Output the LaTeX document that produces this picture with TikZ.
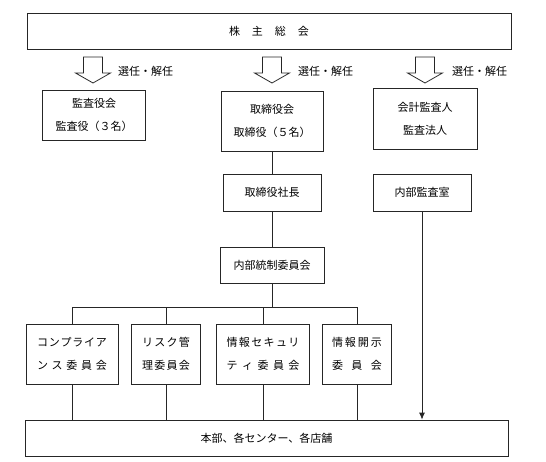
\documentclass[tikz,border=0pt]{standalone}
\usepackage{fontspec}
\setmainfont{Noto Sans CJK JP}
\usetikzlibrary{arrows.meta}

\tikzset{
  box/.style={draw=black!85, line width=0.8pt, inner sep=0pt, align=center,
    font=\fontsize{11pt}{23pt}\selectfont},
  link/.style={draw=black!85, line width=0.8pt},
}
% spread the characters of one line over a fixed width
\newcommand{\sline}[2]{\makebox[#1][s]{#2}}

\begin{document}
\begin{tikzpicture}[x=1pt,y=-1pt]
  \useasboundingbox (0,0) rectangle (546,462);

  % General meeting of shareholders
  \node[box, minimum width=484pt, minimum height=36pt] (gms) at (269,31)
    {\sline{80pt}{株\hfil 主\hfil 総\hfil 会}};

  % Hollow arrows with their labels
  \foreach \cx/\lx [count=\i] in {93/118, 272/298, 425/452} {
    \draw[black!85, line width=0.8pt] (\cx-9.5,57) -- (\cx+9.5,57) -- (\cx+9.5,73)
      -- (\cx+17.5,73) -- (\cx,83) -- (\cx-17.5,73) -- (\cx-9.5,73) -- cycle;
    \node[font=\fontsize{11pt}{13pt}\selectfont, anchor=west, inner sep=0pt] (sel\i)
      at (\lx,71) {選任・解任};
  }

  % Boards
  \node[box, minimum width=103pt, minimum height=50pt] (kansa) at (94,115)
    {監査役会\\監査役（３名）};
  \node[box, minimum width=102pt, minimum height=60pt] (tori) at (272,121)
    {取締役会\\取締役（５名）};
  \node[box, minimum width=104pt, minimum height=61pt] (kaikei) at (425,119)
    {会計監査人\\監査法人};

  \node[box, minimum width=98pt, minimum height=37pt] (pres) at (272,192.5) {取締役社長};
  \node[box, minimum width=98pt, minimum height=37pt] (audit) at (422,192.5) {内部監査室};
  \node[box, minimum width=104pt, minimum height=36pt] (ctrl) at (272,265) {内部統制委員会};

  % Committees
  \node[box, minimum width=92pt, minimum height=60pt] (cmp) at (72,354)
    {\sline{70pt}{コ\hfil ン\hfil プ\hfil ラ\hfil イ\hfil ア}\\
     \sline{70pt}{ン\hfil ス\hfil 委\hfil 員\hfil 会}};
  \node[box, minimum width=69pt, minimum height=60pt] (risk) at (166,354)
    {\sline{48pt}{リ\hfil ス\hfil ク\hfil 管}\\
     \sline{48pt}{理\hfil 委\hfil 員\hfil 会}};
  \node[box, minimum width=93pt, minimum height=60pt] (sec) at (263,354)
    {\sline{73pt}{情\hfil 報\hfil セ\hfil キ\hfil ュ\hfil リ}\\
     \sline{73pt}{テ\hfil ィ\hfil 委\hfil 員\hfil 会}};
  \node[box, minimum width=69pt, minimum height=60pt] (dis) at (357,354)
    {\sline{50pt}{情\hfil 報\hfil 開\hfil 示}\\
     \sline{50pt}{委\hfil 員\hfil 会}};

  % Head office, centres and stores
  \node[box, minimum width=483pt, minimum height=36pt] (base) at (266.5,438)
    {本部、各センター、各店舗};

  % Connectors
  \coordinate (bus) at (0,307);
  \draw[link] (tori) -- (pres);
  \draw[link] (pres) -- (ctrl);
  \draw[link] (ctrl.south) -- (ctrl.south |- bus);
  \draw[link] (cmp.north |- bus) -- (dis.north |- bus);
  \foreach \c in {cmp, risk, sec, dis} {
    \draw[link] (\c.north |- bus) -- (\c.north);
    \draw[link] (\c.south) -- (\c.south |- base.north);
  }
  \draw[link, -{Latex[length=7pt,width=6pt]}] (audit.south) -- (audit.south |- base.north);
\end{tikzpicture}
\end{document}
